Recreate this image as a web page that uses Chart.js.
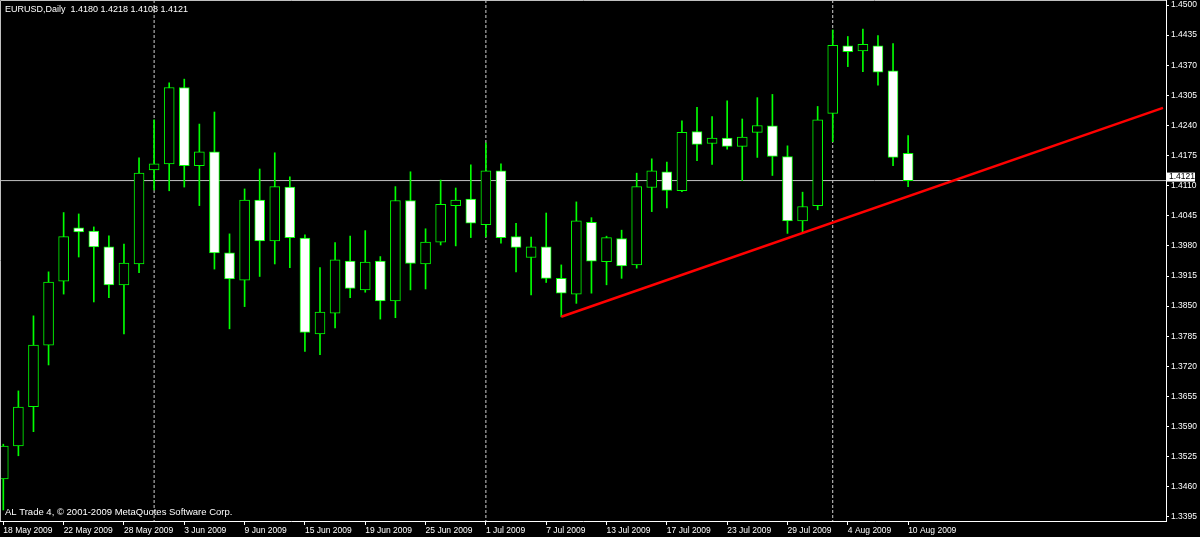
<!DOCTYPE html>
<html>
<head>
<meta charset="utf-8">
<script src="https://cdn.jsdelivr.net/npm/chart.js@4.4.0/dist/chart.umd.min.js"></script>
<style>
  html, body { margin: 0; padding: 0; background: #000; }
  canvas { display: block; background: #000; }
</style>
</head>
<body>
<canvas id="chart" width="1200" height="537"></canvas>
<script>
// EURUSD daily bars, 18 May - 10 Aug 2009
const dates = [
  '18 May 2009', '19 May 2009', '20 May 2009', '21 May 2009', '22 May 2009',
  '25 May 2009', '26 May 2009', '27 May 2009', '28 May 2009', '29 May 2009',
  '1 Jun 2009', '2 Jun 2009', '3 Jun 2009', '4 Jun 2009', '5 Jun 2009',
  '8 Jun 2009', '9 Jun 2009', '10 Jun 2009', '11 Jun 2009', '12 Jun 2009',
  '15 Jun 2009', '16 Jun 2009', '17 Jun 2009', '18 Jun 2009', '19 Jun 2009',
  '22 Jun 2009', '23 Jun 2009', '24 Jun 2009', '25 Jun 2009', '26 Jun 2009',
  '29 Jun 2009', '30 Jun 2009', '1 Jul 2009', '2 Jul 2009', '3 Jul 2009',
  '6 Jul 2009', '7 Jul 2009', '8 Jul 2009', '9 Jul 2009', '10 Jul 2009',
  '13 Jul 2009', '14 Jul 2009', '15 Jul 2009', '16 Jul 2009', '17 Jul 2009',
  '20 Jul 2009', '21 Jul 2009', '22 Jul 2009', '23 Jul 2009', '24 Jul 2009',
  '27 Jul 2009', '28 Jul 2009', '29 Jul 2009', '30 Jul 2009', '31 Jul 2009',
  '3 Aug 2009', '4 Aug 2009', '5 Aug 2009', '6 Aug 2009', '7 Aug 2009',
  '10 Aug 2009'
];
const opens = [
  1.3477, 1.3548, 1.3633, 1.3766, 1.3904, 1.4019, 1.4012, 1.3978, 1.3896, 1.3941,
  1.4144, 1.4157, 1.4322, 1.4153, 1.4183, 1.3965, 1.3906, 1.4079, 1.3991, 1.4107,
  1.3997, 1.3790, 1.3835, 1.3947, 1.3885, 1.3947, 1.3861, 1.4078, 1.3941, 1.3988,
  1.4067, 1.4081, 1.4026, 1.4142, 1.4000, 1.3955, 1.3978, 1.3910, 1.3876, 1.4031,
  1.3946, 1.3996, 1.3939, 1.4106, 1.4140, 1.4099, 1.4227, 1.4201, 1.4213, 1.4195,
  1.4225, 1.4239, 1.4173, 1.4034, 1.4067, 1.4266, 1.4412, 1.4401, 1.4412, 1.4358,
  1.4180
];
const highs = [
  1.3552, 1.3667, 1.3829, 1.3924, 1.4052, 1.4049, 1.4021, 1.4002, 1.3984, 1.4170,
  1.4252, 1.4332, 1.4340, 1.4243, 1.4269, 1.4006, 1.4103, 1.4146, 1.4181, 1.4129,
  1.4004, 1.3933, 1.3987, 1.4001, 1.4013, 1.3957, 1.4108, 1.4140, 1.4017, 1.4122,
  1.4105, 1.4155, 1.4202, 1.4157, 1.4029, 1.3999, 1.4051, 1.3939, 1.4075, 1.4041,
  1.4001, 1.4014, 1.4137, 1.4168, 1.4161, 1.4250, 1.4279, 1.4259, 1.4293, 1.4254,
  1.4300, 1.4307, 1.4196, 1.4096, 1.4281, 1.4446, 1.4432, 1.4448, 1.4434, 1.4417,
  1.4218
];
const lows = [
  1.3410, 1.3527, 1.3579, 1.3723, 1.3876, 1.3956, 1.3859, 1.3868, 1.3790, 1.3922,
  1.4101, 1.4099, 1.4107, 1.4067, 1.3930, 1.3801, 1.3849, 1.3914, 1.3941, 1.3933,
  1.3752, 1.3745, 1.3803, 1.3868, 1.3880, 1.3822, 1.3825, 1.3885, 1.3887, 1.3982,
  1.3980, 1.3998, 1.4000, 1.3986, 1.3924, 1.3874, 1.3901, 1.3827, 1.3856, 1.3878,
  1.3896, 1.3910, 1.3932, 1.4054, 1.4062, 1.4097, 1.4164, 1.4156, 1.4189, 1.4121,
  1.4171, 1.4132, 1.4007, 1.4007, 1.4058, 1.4205, 1.4367, 1.4356, 1.4327, 1.4153,
  1.4108
];
const closes = [
  1.3548, 1.3632, 1.3766, 1.3902, 1.4000, 1.4010, 1.3978, 1.3896, 1.3943, 1.4137,
  1.4157, 1.4322, 1.4153, 1.4183, 1.3965, 1.3909, 1.4079, 1.3991, 1.4108, 1.3998,
  1.3793, 1.3837, 1.3950, 1.3888, 1.3945, 1.3861, 1.4078, 1.3942, 1.3988, 1.4070,
  1.4079, 1.4029, 1.4142, 1.3998, 1.3977, 1.3978, 1.3910, 1.3878, 1.4034, 1.3947,
  1.3998, 1.3937, 1.4108, 1.4142, 1.4100, 1.4225, 1.4199, 1.4213, 1.4195, 1.4215,
  1.4240, 1.4173, 1.4034, 1.4065, 1.4252, 1.4413, 1.4399, 1.4415, 1.4355, 1.4171,
  1.4121
];
const priceTicks = [
  1.3395, 1.3460, 1.3525, 1.3590, 1.3655, 1.3720, 1.3785, 1.3850, 1.3915,
  1.3980, 1.4045, 1.4110, 1.4175, 1.4240, 1.4305, 1.4370, 1.4435, 1.4500
];
const separatorBars = [10, 32, 55];       // first bar of Jun, Jul, Aug
const trendBars = [37, 76.9];
const trendPrices = [1.3827, 1.4278];
const lastPrice = closes[closes.length - 1];

const symbolTitle = 'EURUSD,Daily';
const copyright = 'AL Trade 4, \u00A9 2001-2009 MetaQuotes Software Corp.';

// visible window (bar index / price)
const xMin = -0.22, xMax = 77.1;
const yMin = 1.33862, yMax = 1.45108;

const LIME = '#00ff00';
const FONT = 'Liberation Sans';

Chart.defaults.font.family = FONT;
Chart.defaults.font.size = 8.5;

const bodyData = dates.map((d, i) => ({ x: i, y: [opens[i], closes[i]] }));
const wickData = dates.map((d, i) => ({ x: i, y: [lows[i], highs[i]] }));
const bodyFill = dates.map((d, i) => closes[i] >= opens[i] ? '#000000' : '#ffffff');

const separatorSets = separatorBars.map(b => ({
  type: 'line',
  data: [{ x: b, y: yMax }, { x: b, y: yMin }],
  borderColor: '#d0d0d0',
  borderWidth: 1,
  borderDash: [3, 2],
  pointRadius: 0,
  order: 3
}));

// axes should not reserve room for half-labels at the ends
const noEdgePadding = s => {
  s.paddingTop = 0;
  s.paddingBottom = 0;
  s.paddingLeft = 0;
  s.paddingRight = 0;
};

// frame, title, copyright line and the last price box
const overlay = {
  id: 'overlay',
  afterDraw(chart) {
    const { ctx, chartArea: a, scales: { y } } = chart;
    ctx.save();
    ctx.strokeStyle = '#c0c0c0';
    ctx.lineWidth = 1;
    ctx.beginPath();
    ctx.moveTo(a.left + 0.5, a.bottom);
    ctx.lineTo(a.left + 0.5, a.top + 0.5);
    ctx.lineTo(a.right, a.top + 0.5);
    ctx.stroke();

    ctx.fillStyle = '#ffffff';
    ctx.textBaseline = 'middle';
    const ohlc = [opens, highs, lows, closes].map(s => s[s.length - 1].toFixed(4)).join(' ');
    ctx.font = `9px "${FONT}"`;
    ctx.fillText(`${symbolTitle}  ${ohlc}`, a.left + 5, a.top + 10);
    ctx.font = `9.5px "${FONT}"`;
    ctx.fillText(copyright, a.left + 5, a.bottom - 9);

    const py = y.getPixelForValue(lastPrice);
    ctx.font = `8.5px "${FONT}"`;
    ctx.fillStyle = '#ffffff';
    ctx.fillRect(a.right, py - 8, 29, 9);
    ctx.fillStyle = '#000000';
    ctx.fillText(lastPrice.toFixed(4), a.right + 3, py - 3.5);
    ctx.restore();
  }
};

new Chart(document.getElementById('chart'), {
  type: 'bar',
  data: {
    datasets: [
      {
        type: 'line',
        data: trendBars.map((b, i) => ({ x: b, y: trendPrices[i] })),
        borderColor: '#ff0000',
        borderWidth: 2.5,
        pointRadius: 0,
        order: -1
      },
      {
        data: bodyData,
        backgroundColor: bodyFill,
        borderColor: LIME,
        borderWidth: 1,
        borderSkipped: false,
        barThickness: 10,
        grouped: false,
        order: 0
      },
      {
        data: wickData,
        backgroundColor: LIME,
        borderWidth: 0,
        barThickness: 1,
        grouped: false,
        order: 1
      },
      {
        type: 'line',
        data: [{ x: xMin, y: lastPrice }, { x: xMax, y: lastPrice }],
        borderColor: '#c0c0c0',
        borderWidth: 1,
        pointRadius: 0,
        order: 2
      },
      ...separatorSets
    ]
  },
  options: {
    responsive: false,
    animation: false,
    events: [],
    layout: { padding: 0 },
    plugins: { legend: { display: false }, tooltip: { enabled: false } },
    scales: {
      x: {
        type: 'linear',
        min: xMin,
        max: xMax,
        offset: false,
        afterBuildTicks: s => {
          s.ticks = dates.map((d, i) => i).filter(i => i % 4 === 0).map(i => ({ value: i }));
        },
        afterFit: s => { s.height = 16; noEdgePadding(s); },
        ticks: {
          color: '#ffffff',
          align: 'start',
          maxRotation: 0,
          autoSkip: false,
          padding: 1,
          callback: v => dates[v]
        },
        grid: { drawOnChartArea: false, offset: false, color: '#ffffff', tickLength: 4 },
        border: { color: '#ffffff' }
      },
      y: {
        position: 'right',
        min: yMin,
        max: yMax,
        beginAtZero: false,
        afterBuildTicks: s => { s.ticks = priceTicks.map(v => ({ value: v })); },
        afterFit: s => { s.width = 34; noEdgePadding(s); },
        ticks: {
          color: '#ffffff',
          padding: 2,
          autoSkip: false,
          callback: v => v.toFixed(4)
        },
        grid: { drawOnChartArea: false, color: '#ffffff', tickLength: 3 },
        border: { color: '#ffffff' }
      }
    }
  },
  plugins: [overlay]
});
</script>
</body>
</html>
